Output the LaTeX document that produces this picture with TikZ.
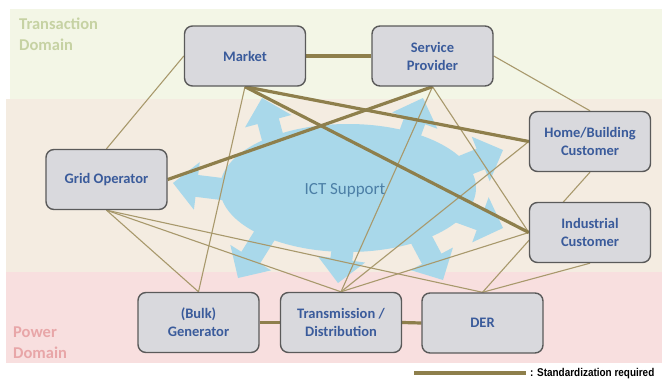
\documentclass[tikz,border=0pt]{standalone}
\usepackage{fontspec}
\usepackage{graphicx}
\setmainfont{Carlito}
\newfontfamily\legfont{Liberation Sans}
\definecolor{nodefill}{HTML}{D9D9DD}
\definecolor{nodeborder}{HTML}{5A5A5A}
\definecolor{nodetext}{HTML}{3A5B9B}
\definecolor{thickc}{HTML}{8E7F4C}
\definecolor{thinc}{HTML}{A8996C}
\definecolor{ictblue}{HTML}{A9D8EA}
\definecolor{icttext}{HTML}{4C7FA6}
\definecolor{transbg}{HTML}{F3F6E6}
\definecolor{midbg}{HTML}{F4ECE1}
\definecolor{powerbg}{HTML}{F8DFDF}
\definecolor{transtext}{HTML}{C6D2A3}
\definecolor{powertext}{HTML}{E8A6A8}
\pgfdeclarelayer{backlayer}
\pgfdeclarelayer{linelayer}
\pgfsetlayers{backlayer,linelayer,main}
\begin{document}
\begin{tikzpicture}[x=1pt,y=-1pt,
  box/.style={draw=nodeborder, line width=1.4pt, fill=nodefill, rounded corners=8pt,
    minimum width=121pt, minimum height=60pt, align=center, inner sep=2pt,
    font=\fontsize{14.5}{18}\selectfont\bfseries, text=nodetext},
  thickline/.style={draw=thickc, line width=3.2pt},
  thinline/.style={draw=thinc, line width=1.1pt},
  domainlabel/.style={anchor=north west, align=left, inner sep=0pt,
    font=\fontsize{16.5}{20.5}\selectfont\bfseries}]
\useasboundingbox (0,0) rectangle (662,380);
\begin{pgfonlayer}{backlayer}
% background bands
\fill[transbg] (10,9) rectangle (662,99);
\fill[midbg] (6,99) rectangle (662,272);
\fill[powerbg] (6,272) rectangle (662,363);
% ICT support shape
\fill[ictblue] (348,188) ellipse [x radius=128pt, y radius=64pt];
\foreach \tx/\ty/\a in {262/98/105, 173/183/173, 423/98/70, 503/150/22,
    503/228/-20, 238/278/238, 338/283/262, 443/280/298} {
  \fill[ictblue, shift={(\tx,\ty)}, rotate=\a]
    (-70pt,-11pt) -- (-24pt,-11pt) -- (-24pt,-24pt) -- (0pt,0pt) --
    (-24pt,24pt) -- (-24pt,11pt) -- (-70pt,11pt) -- cycle;
}
\end{pgfonlayer}
\node[domainlabel, text=transtext] (tdom) at (19,18) {Transaction\\Domain};
\node[domainlabel, text=powertext] (pdom) at (13,327) {Power\\Domain};
\node[font=\fontsize{17}{20}\selectfont, text=icttext] (ict) at (345,190) {ICT Support};
% nodes
\node[box] (market) at (245,56) {Market};
\node[box] (sp) at (432.5,56) {Service\\Provider};
\node[box] (hb) at (590,141.5) {Home/Building\\Customer};
\node[box] (grid) at (106.5,179.5) {Grid Operator};
\node[box] (ind) at (590,232.5) {Industrial\\Customer};
\node[box] (gen) at (198.5,322.5) {(Bulk)\\Generator};
\node[box] (td) at (341,322.5) {Transmission /\\Distribution};
\node[box] (der) at (482.5,323) {DER};
% connectors behind nodes
\begin{pgfonlayer}{linelayer}
\draw[thinline] (market.west) -- (grid.north);
\draw[thinline] (market.south) -- (gen.north);
\draw[thinline] (sp.east) -- (hb.north);
\draw[thinline] (sp.south) -- (td.north);
\draw[thinline] (sp.south) -- (ind.west);
\draw[thinline] (hb.south) -- (der.north);
\draw[thinline] (hb.west) -- (td.north);
\draw[thinline] (ind.west) -- (td.north);
\draw[thinline] (ind.south) -- (der.north);
\draw[thinline] (grid.south) -- (gen.north);
\draw[thinline] (grid.south) -- (td.north);
\draw[thinline] (grid.south) -- (der.north);
\draw[thickline] (market.east) -- (sp.west);
\draw[thickline] (market.south) -- (hb.west);
\draw[thickline] (market.south) -- (ind.west);
\draw[thickline] (sp.south) -- (grid.east);
\draw[thickline] (gen.east) -- (td.west);
\draw[thickline] (td.east) -- (der.west);
\end{pgfonlayer}
% legend
\coordinate (lega) at (414,373);
\coordinate (legb) at (526,373);
\draw[thickline, line width=3.6pt] (lega) -- (legb);
\node[anchor=west, inner sep=0pt, font=\legfont\fontsize{11.3}{12}\selectfont\bfseries] (legtext) at (530,373.5)
  {\scalebox{0.88}[1]{: Standardization required}};
\end{tikzpicture}
\end{document}
